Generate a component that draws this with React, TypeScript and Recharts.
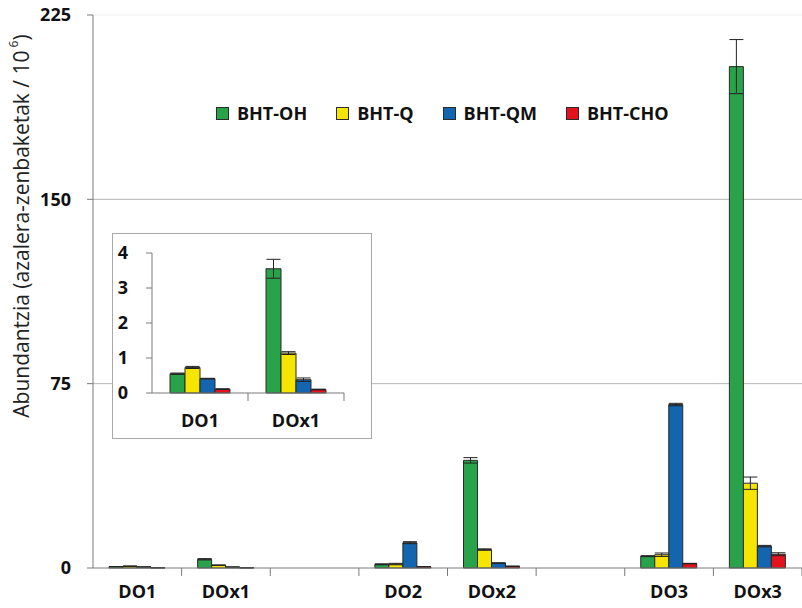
import React from "react";
import {
  BarChart,
  Bar,
  XAxis,
  YAxis,
  ErrorBar,
  CartesianGrid,
  ReferenceLine,
} from "recharts";

const categories = ["DO1", "DOx1", "", "DO2", "DOx2", "", "DO3", "DOx3"];
const bhtOH = [0.55, 3.55, null, 1.5, 43.8, null, 4.8, 204];
const bhtOHErr = [0.02, 0.27, null, 0.2, 1.1, null, 0.2, 11];
const bhtQ = [0.73, 1.14, null, 1.6, 7.5, null, 5.4, 34.5];
const bhtQErr = [0.03, 0.04, null, 0.3, 0.3, null, 0.7, 2.5];
const bhtQM = [0.41, 0.38, null, 10.3, 2.0, null, 66.5, 8.9];
const bhtQMErr = [0.01, 0.05, null, 0.4, 0.1, null, 0.5, 0.3];
const bhtCHO = [0.11, 0.1, null, 0.5, 0.7, null, 1.8, 5.6];
const bhtCHOErr = [0.01, 0.01, null, 0.05, 0.05, null, 0.1, 0.6];

const mainTicks = [0, 75, 150, 225];
const gridValues = [75, 150];
const insetTicks = [0, 1, 2, 3, 4];
const insetCategories = 2;

const series = [
  { key: "oh", name: "BHT-OH", color: "#29a349" },
  { key: "q", name: "BHT-Q", color: "#f5e500" },
  { key: "qm", name: "BHT-QM", color: "#1265ae" },
  { key: "cho", name: "BHT-CHO", color: "#e3121c" },
];

const data = categories.map((name, i) => ({
  name,
  oh: bhtOH[i],
  ohErr: bhtOHErr[i],
  q: bhtQ[i],
  qErr: bhtQErr[i],
  qm: bhtQM[i],
  qmErr: bhtQMErr[i],
  cho: bhtCHO[i],
  choErr: bhtCHOErr[i],
}));
const insetData = data.slice(0, insetCategories);

const FONT = "'Open Sans', 'DejaVu Sans', sans-serif";
const AXIS = "#7a7a7a";
const OUTLINE = "#2b2b2b";
const MAIN_MAX = 225;

// x-axis tick: label at band centre, small tick mark at the band's right edge
const BoundaryTick = (props: any) => {
  const { x, y, payload, half, labelDy } = props;
  const off = payload && payload.offset ? payload.offset : half;
  return (
    <g>
      <line x1={x + off} x2={x + off} y1={y} y2={y + 8} stroke={AXIS} />
      <text
        x={x}
        y={y + labelDy}
        textAnchor="middle"
        fontFamily={FONT}
        fontWeight={700}
        fontSize={18}
        fill="#111"
      >
        {payload.value}
      </text>
    </g>
  );
};

const YLabel = () => (
  <text
    transform="rotate(-90, 21, 226)"
    x={21}
    y={226}
    textAnchor="middle"
    dominantBaseline="central"
    fontFamily={FONT}
    fontSize={21}
    fill="#222"
  >
    Abundantzia (azalera-zenbaketak / 10
    <tspan fontSize={12} dy={-8}> 6</tspan>
    <tspan dy={8}>)</tspan>
  </text>
);

const bars = (size: number, errW: number) =>
  series.map((s) => (
    <Bar
      key={s.key}
      dataKey={s.key}
      name={s.name}
      fill={s.color}
      stroke={OUTLINE}
      strokeWidth={1}
      barSize={size}
      isAnimationActive={false}
    >
      <ErrorBar dataKey={s.key + "Err"} width={errW} stroke="#222" strokeWidth={1} />
    </Bar>
  ));

export default function App() {
  const mainW = 802;
  const mainYW = 93;
  const mainHalf = (mainW - mainYW) / categories.length / 2;
  const tickStyle = { fontFamily: FONT, fontWeight: 700, fontSize: 18, fill: "#111" };

  return (
    <div style={{ position: "absolute", left: 0, top: 0, width: 802, height: 608, background: "#fff" }}>
      <BarChart
        width={mainW}
        height={608}
        data={data}
        margin={{ top: 15, right: 0, bottom: 0, left: 0 }}
        barGap={0}
      >
        <CartesianGrid
          vertical={false}
          stroke="#b5b5b5"
          horizontalCoordinatesGenerator={({ offset }: any) =>
            gridValues.map((v) => offset.top + offset.height * (1 - v / MAIN_MAX))
          }
        />
        <ReferenceLine y={225} stroke="#efefef" />
        <XAxis
          dataKey="name"
          height={40}
          stroke={AXIS}
          tickLine={false}
          tickSize={0}
          tickMargin={0}
          interval={0}
          tick={<BoundaryTick half={mainHalf} labelDy={30} />}
        />
        <YAxis
          width={mainYW}
          domain={[0, MAIN_MAX]}
          ticks={mainTicks}
          stroke={AXIS}
          tickSize={6}
          tickMargin={16}
          tick={tickStyle}
          label={<YLabel />}
        />
        {bars(14, 7)}
      </BarChart>

      {/* legend */}
      <div
        style={{
          position: "absolute",
          left: 216,
          top: 101,
          display: "flex",
          gap: 29,
          fontFamily: FONT,
          fontWeight: 700,
          fontSize: 18,
          color: "#111",
        }}
      >
        {series.map((s) => (
          <div key={s.key} style={{ display: "flex", alignItems: "center", gap: 8 }}>
            <span
              style={{
                width: 11,
                height: 11,
                background: s.color,
                border: `1px solid ${OUTLINE}`,
                display: "inline-block",
              }}
            />
            <span>{s.name}</span>
          </div>
        ))}
      </div>

      {/* inset */}
      <div
        style={{
          position: "absolute",
          left: 112,
          top: 233,
          width: 260,
          height: 206,
          boxSizing: "border-box",
          border: "1px solid #a8a8a8",
          background: "#fff",
        }}
      >
        <BarChart
          width={258}
          height={204}
          data={insetData}
          margin={{ top: 19, right: 27, bottom: 0, left: 0 }}
          barGap={0}
        >
          <XAxis
            dataKey="name"
            height={45}
            stroke={AXIS}
            tickLine={false}
            tickSize={0}
            tickMargin={0}
            interval={0}
            tick={<BoundaryTick half={(258 - 39 - 27) / insetCategories / 2} labelDy={34} />}
          />
          <YAxis
            width={39}
            domain={[0, 4]}
            ticks={insetTicks}
            stroke={AXIS}
            tickSize={6}
            tickMargin={18}
            tick={tickStyle}
          />
          {bars(15, 7)}
        </BarChart>
      </div>
    </div>
  );
}
